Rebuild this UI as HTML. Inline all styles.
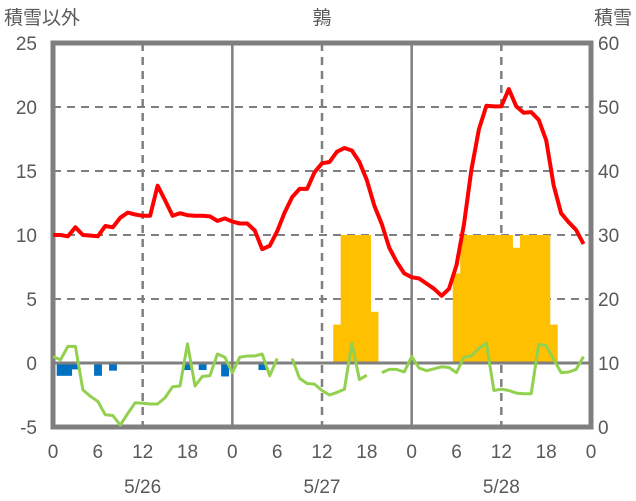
<!DOCTYPE html>
<html><head><meta charset="utf-8"><style>
html,body{margin:0;padding:0;background:#fff;}
svg{display:block;font-family:"Liberation Sans","Noto Sans CJK JP",sans-serif;}
</style></head><body>
<svg id="chart" width="636" height="501" viewBox="0 0 636 501" xmlns="http://www.w3.org/2000/svg">
<g id="grid"></g>
<g id="bars"></g>
<g id="precip"></g>
<g id="axes"></g>
<g id="lines"></g>
<g id="labels" fill="#595959"></g>
</svg>
<script>
const hourTicks=["0","6","12","18","0","6","12","18","0","6","12","18","0"];
const dateLabels=["5/26","5/27","5/28"];
const leftTicks=[-5,0,5,10,15,20,25];
const rightTicks=[0,10,20,30,40,50,60];
const tempSeries=[10.0,10.0,9.9,10.6,10.0,9.95,9.9,10.7,10.6,11.35,11.75,11.6,11.5,11.5,13.85,12.7,11.5,11.7,11.55,11.5,11.5,11.45,11.1,11.3,11.05,10.9,10.9,10.35,8.9,9.15,10.3,11.75,12.95,13.6,13.6,14.9,15.6,15.7,16.5,16.8,16.6,15.7,14.3,12.3,10.85,9.0,7.9,7.0,6.7,6.6,6.2,5.8,5.25,5.8,7.65,10.85,15.1,18.25,20.1,20.05,20.05,21.4,20.05,19.55,19.6,19.0,17.4,13.9,11.7,11.0,10.4,9.3];
const greenSeries=[0.5,0.25,1.3,1.3,-2.1,-2.6,-3.0,-4.05,-4.1,-4.85,-3.95,-3.1,-3.15,-3.2,-3.2,-2.7,-1.85,-1.8,1.5,-1.8,-1.05,-1.0,0.7,0.45,-0.75,0.45,0.55,0.55,0.7,-1.0,0.35,null,0.35,-1.2,-1.6,-1.65,-2.15,-2.5,-2.3,-2.05,1.55,-1.3,-0.95,null,-0.75,-0.5,-0.5,-0.7,0.5,-0.4,-0.6,-0.45,-0.3,-0.35,-0.75,0.45,0.55,1.15,1.55,-2.15,-2.05,-2.15,-2.35,-2.4,-2.4,1.45,1.35,0.3,-0.75,-0.7,-0.5,0.5];
const snowSeries=[0,0,0,0,0,0,0,0,0,0,0,0,0,0,0,0,0,0,0,0,0,0,0,0,0,0,0,0,0,0,0,0,0,0,0,0,0,0,16,30,30,30,30,18,0,0,0,0,0,0,0,0,0,0,24,30,30,30,30,30,30,30,28,30,30,30,30,16,0,0,0,0];
const precipSeries=[0,-1.0,-1.0,-0.5,0,0,-1.0,0,-0.6,0,0,0,0,0,0,0,0,0,-0.55,0,-0.55,0,0,-1.05,0,0,0,0,-0.55,0,0,0,0,0,0,0,0,0,0,0,0,0,0,0,0,0,0,0,0,0,0,0,0,0,0,0,0,0,0,0,0,0,0,0,0,0,0,0,0,0,0,0];

const NS="http://www.w3.org/2000/svg";
const X0=53,X1=591,Y0=427,Y1=43;
const xh=h=>X0+(X1-X0)*h/72;
const yl=v=>Y0-(v+5)/30*(Y0-Y1);
const yr=v=>Y0-v/60*(Y0-Y1);
function mk(tag,attrs,parent){const e=document.createElementNS(NS,tag);for(const k in attrs)e.setAttribute(k,attrs[k]);parent.appendChild(e);return e;}
const G=id=>document.getElementById(id);

[5,10,15,20].forEach(v=>{
  const l=mk('line',{x1:X0,x2:X1,y1:yl(v),y2:yl(v),stroke:'#7f7f7f','stroke-width':2,'stroke-dasharray':'8,6'},G('grid'));
  
  
});
for(let h=12;h<72;h+=12){
  const solid=(h%24===0);
  const l=mk('line',{x1:xh(h),x2:xh(h),y1:Y1,y2:Y0,stroke:'#7f7f7f','stroke-width':2.5},G('grid'));
  if(!solid)l.setAttribute('stroke-dasharray','8,6');
  
  
}
const bw=(X1-X0)/72;
snowSeries.forEach((v,i)=>{
  if(!v)return;
  const r=mk('rect',{x:xh(i)-bw/2,y:yr(v),width:bw+0.4,height:yl(0)-yr(v),fill:'#FFC000'},G('bars'));
  
  
});
precipSeries.forEach((v,i)=>{
  if(!v)return;
  const r=mk('rect',{x:xh(i)-bw/2,y:yl(0),width:bw+0.4,height:yl(v)-yl(0),fill:'#0070C0'},G('precip'));
  
  
});
const z=mk('line',{x1:X0,x2:X1,y1:yl(0),y2:yl(0),stroke:'#7f7f7f','stroke-width':3},G('axes'));


const f=mk('rect',{x:X0,y:Y1,width:X1-X0,height:Y0-Y1,fill:'none',stroke:'#7f7f7f','stroke-width':5},G('axes'));


function segs(arr,yf){const out=[];let cur=[];arr.forEach((v,i)=>{if(v===null){if(cur.length)out.push(cur);cur=[];}else cur.push(xh(i).toFixed(1)+','+yf(v).toFixed(1));});if(cur.length)out.push(cur);return out;}
segs(greenSeries,yl).forEach(s=>{
  const p=mk('polyline',{points:s.join(' '),fill:'none',stroke:'#92D050','stroke-width':3,'stroke-linejoin':'round'},G('lines'));
  
  
});
segs(tempSeries,yl).forEach(s=>{
  const p=mk('polyline',{points:s.join(' '),fill:'none',stroke:'#FF0000','stroke-width':4,'stroke-linejoin':'round'},G('lines'));
  
  
});
function txt(s,attrs,name){const t=mk('text',attrs,G('labels'));t.textContent=s;return t;}
leftTicks.forEach(v=>txt(String(v),{x:37,y:yl(v)+7,'font-size':19,'text-anchor':'end'},'left-tick-label'));
rightTicks.forEach(v=>txt(String(v),{x:598,y:yr(v)+7,'font-size':19},'right-tick-label'));
hourTicks.forEach((s,i)=>txt(s,{x:xh(i*6),y:458,'font-size':19,'text-anchor':'middle'},'x-tick-label'));
dateLabels.forEach((s,i)=>txt(s,{x:xh(12+24*i),y:493,'font-size':19,'text-anchor':'middle'},'date-label'));
txt('積雪以外',{x:4,y:24,'font-size':19},'left-axis-title');
txt('鶉',{x:322,y:24,'font-size':19,'text-anchor':'middle'},'chart-title');
txt('積雪',{x:632,y:24,'font-size':19,'text-anchor':'end'},'right-axis-title');
</script>
</body></html>
